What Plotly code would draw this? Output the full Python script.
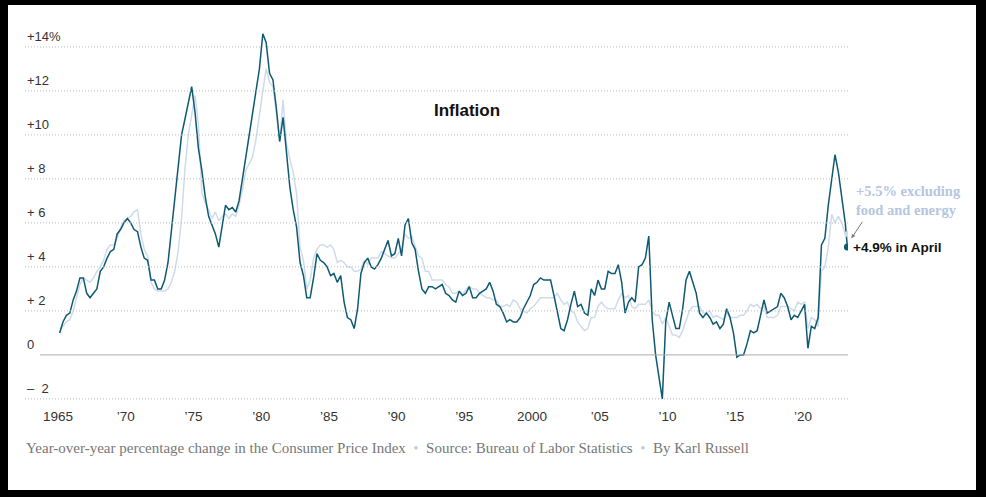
import plotly.graph_objects as go

# quarterly samples (Feb, May, Aug, Nov), last year ends in April
years = list(range(1965, 2024))
months = [2, 5, 8, 11]
last_months = [2, 4]

headline = [
    1.0, 1.5, 1.8, 1.9,  2.5, 2.9, 3.5, 3.5,  2.8, 2.6, 2.8, 3.0,  3.8, 4.0, 4.4, 4.7,
    4.8, 5.5, 5.7, 6.0,  6.2, 6.0, 5.7, 5.6,  4.9, 4.4, 4.3, 3.4,  3.4, 3.0, 3.0, 3.4,
    4.2, 5.6, 7.3, 8.5,  10.0, 10.7, 11.5, 12.2,  11.0, 9.4, 8.4, 7.2,  6.3, 5.9, 5.5, 4.9,
    5.8, 6.8, 6.6, 6.7,  6.5, 7.0, 8.0, 9.0,  9.9, 10.8, 11.8, 13.0,  14.6, 14.2, 12.8, 12.5,
    11.2, 9.7, 10.8, 9.2,  7.6, 6.6, 5.8, 4.2,  3.6, 2.6, 2.6, 3.5,  4.6, 4.3, 4.2, 4.0,
    3.6, 3.7, 3.3, 3.6,  2.4, 1.7, 1.6, 1.2,  2.1, 3.7, 4.2, 4.4,  4.0, 3.9, 4.1, 4.4,
    4.8, 5.2, 4.5, 4.6,  5.3, 4.5, 5.9, 6.2,  5.1, 4.8, 3.8, 3.0,  2.8, 3.1, 3.1, 3.0,
    3.1, 3.2, 2.8, 2.7,  2.5, 2.4, 2.9, 2.7,  2.8, 3.1, 2.6, 2.6,  2.8, 2.9, 3.0, 3.3,
    2.9, 2.3, 2.2, 1.9,  1.5, 1.6, 1.5, 1.5,  1.7, 2.1, 2.4, 2.7,  3.2, 3.3, 3.5, 3.4,
    3.4, 3.4, 2.7, 1.9,  1.2, 1.1, 1.6, 2.3,  2.9, 2.2, 2.3, 1.9,  1.8, 3.0, 2.7, 3.4,
    3.0, 3.0, 3.8, 3.7,  3.7, 4.1, 3.3, 1.9,  2.4, 2.6, 2.4, 4.0,  4.1, 4.4, 5.4, 1.6,
    0.0, -1.0, -2.0, 1.5,  2.4, 1.8, 1.2, 1.2,  2.1, 3.4, 3.8, 3.3,  2.8, 1.9, 1.7, 1.9,
    1.7, 1.4, 1.5, 1.2,  1.4, 2.1, 1.7, 1.0,  -0.1, 0.0, 0.0, 0.5,  1.1, 1.0, 1.1, 1.8,
    2.5, 1.9, 2.0, 2.1,  2.2, 2.8, 2.6, 2.2,  1.6, 1.8, 1.7, 2.0,  2.3, 0.3, 1.3, 1.2,
    1.7, 5.0, 5.3, 6.8,  8.0, 9.1, 8.3, 7.1,  6.0, 4.9,
]

core = [
    1.2, 1.3, 1.5, 1.6,  2.0, 2.6, 3.2, 3.5,  3.4, 3.3, 3.5, 3.8,  4.0, 4.3, 4.8, 5.0,
    5.0, 5.3, 5.8, 6.1,  6.2, 6.3, 6.5, 6.6,  5.5, 4.8, 4.5, 3.3,  3.0, 2.9, 2.9, 2.9,
    3.0, 3.3, 3.8, 4.7,  6.2, 8.4, 10.0, 11.0,  11.8, 10.5, 7.4, 6.9,  6.6, 6.2, 6.5, 6.1,
    6.3, 6.4, 6.2, 6.4,  6.3, 6.8, 7.5, 8.4,  8.7, 9.0, 9.8, 11.0,  12.0, 13.0, 12.4, 12.2,
    11.0, 9.7, 11.6, 9.6,  8.9, 8.3, 7.3, 4.9,  4.3, 3.0, 3.4, 4.4,  4.8, 5.0, 5.0, 4.9,
    5.0, 4.8, 4.2, 4.3,  4.2, 4.0, 4.0, 3.8,  3.8, 3.9, 4.3, 4.1,  4.4, 4.4, 4.4, 4.7,
    4.6, 4.5, 4.4, 4.4,  4.6, 4.8, 5.5, 5.3,  5.4, 5.0, 4.5, 4.4,  3.8, 3.8, 3.4, 3.4,
    3.4, 3.4, 3.2, 3.1,  2.8, 2.8, 2.9, 2.7,  3.0, 3.1, 3.0, 3.0,  2.8, 2.7, 2.6, 2.6,
    2.5, 2.5, 2.2, 2.2,  2.3, 2.2, 2.5, 2.4,  2.1, 2.0, 1.9, 2.1,  2.2, 2.4, 2.6, 2.6,
    2.6, 2.6, 2.6, 2.8,  2.5, 2.3, 2.4, 2.0,  1.9, 1.5, 1.3, 1.1,  1.2, 1.7, 1.7, 2.2,
    2.4, 2.2, 2.1, 2.1,  2.1, 2.5, 2.8, 2.6,  2.7, 2.2, 2.1, 2.3,  2.3, 2.3, 2.5, 2.0,
    1.8, 1.8, 1.4, 1.7,  1.3, 0.9, 0.9, 0.8,  1.1, 1.5, 2.0, 2.2,  2.2, 2.2, 1.9, 1.9,
    2.0, 1.7, 1.8, 1.7,  1.6, 1.9, 1.7, 1.7,  1.7, 1.8, 1.8, 2.0,  2.3, 2.2, 2.3, 2.1,
    2.2, 1.7, 1.7, 1.7,  1.8, 2.2, 2.2, 2.2,  2.1, 2.0, 2.4, 2.3,  2.4, 1.2, 1.7, 1.6,
    1.3, 3.8, 4.0, 4.9,  6.4, 6.0, 6.3, 6.0,  5.5, 5.5,
]

dates = []
for y in years:
    for m in (last_months if y == 2023 else months):
        dates.append(f"{y}-{m:02d}-15")

tick_years = [1965, 1970, 1975, 1980, 1985, 1990, 1995, 2000, 2005, 2010, 2015, 2020]
tick_text = ["1965", "’70", "’75", "’80", "’85", "’90", "’95", "2000", "’05", "’10", "’15", "’20"]
y_ticks = [14, 12, 10, 8, 6, 4, 2, 0, -2]
y_text = ["+14%", "+12", "+10", "+ 8", "+ 6", "+ 4", "+ 2", "0", "–  2"]

DARK = "#0e5a73"
LIGHT = "#cfdbea"
W, H = 986, 497
ML, MR, MT, MB = 58, 138, 30, 97
YMIN, YMAX = -2.05, 14.77

fig = go.Figure()
fig.add_trace(go.Scatter(x=dates, y=core, mode="lines", line=dict(color=LIGHT, width=1.5)))
fig.add_trace(go.Scatter(x=dates, y=headline, mode="lines", line=dict(color=DARK, width=1.5)))
fig.add_trace(go.Scatter(x=[dates[-1]], y=[headline[-1]], mode="markers",
                         marker=dict(color=DARK, size=7)))
fig.add_trace(go.Scatter(x=[dates[-1]], y=[core[-1]], mode="markers",
                         marker=dict(color=LIGHT, size=6)))

pw = W - ML - MR
ph = H - MT - MB
px0 = (25 - ML) / pw
shapes = [dict(type="rect", xref="paper", yref="paper", layer="below",
               x0=(8 - ML) / pw, x1=(976 - ML) / pw,
               y0=-(490 - MT - ph) / ph, y1=1 + (MT - 5) / ph,
               fillcolor="white", line_width=0)]
annotations = []
for v, t in zip(y_ticks, y_text):
    if v == 0:
        shapes.append(dict(type="line", xref="paper", yref="y", x0=(40 - ML) / pw, x1=1,
                           y0=0, y1=0, line=dict(color="#aaaaaa", width=1)))
    else:
        shapes.append(dict(type="line", xref="paper", yref="y", x0=px0, x1=1, y0=v, y1=v,
                           line=dict(color="#bbbbbb", width=1, dash="1px,2px")))
    annotations.append(dict(x=px0, y=v, xref="paper", yref="y", text=t, showarrow=False,
                            xanchor="left", yanchor="bottom", yshift=1,
                            font=dict(size=13, color="#333333", family="Liberation Sans")))

annotations += [
    dict(x="1995-03-01", y=11.1, text="<b>Inflation</b>", showarrow=False,
         font=dict(size=17, color="#111111", family="Liberation Sans")),
    dict(x=dates[-1], y=headline[-1], text="<b>+4.9% in April</b>", showarrow=False,
         xanchor="left", xshift=4, font=dict(size=13.5, color="#111111", family="Liberation Sans")),
    dict(x=dates[-1], y=7.0, text="<b>+5.5% excluding<br>food and energy</b>", showarrow=False,
         xanchor="left", xshift=7, align="left",
         font=dict(size=14.5, color="#b5c6de", family="Liberation Serif")),
    dict(x=dates[-1], y=core[-1] - 0.2, ax=12, ay=-18, text="", showarrow=True,
         arrowhead=2, arrowsize=0.8, arrowwidth=1, arrowcolor="#777777", xshift=4),
    dict(x=(24 - ML) / pw, y=-(448 - MT - ph) / ph, xref="paper", yref="paper",
         xanchor="left", yanchor="middle", showarrow=False,
         text="Year-over-year percentage change in the Consumer Price Index  "
              "<span style='color:#cccccc'>•</span>  Source: Bureau of Labor Statistics  "
              "<span style='color:#cccccc'>•</span>  By Karl Russell",
         font=dict(size=15, color="#777777", family="Liberation Serif")),
]

fig.update_layout(
    width=W, height=H, margin=dict(l=ML, r=MR, t=MT, b=MB),
    paper_bgcolor="black", plot_bgcolor="white", showlegend=False,
    shapes=shapes, annotations=annotations,
    xaxis=dict(range=["1965-01-01", "2023-05-01"], showgrid=False, zeroline=False,
               tickvals=[f"{y}-01-01" for y in tick_years], ticktext=tick_text, ticks="",
               tickfont=dict(size=13.5, color="#333333", family="Liberation Sans")),
    yaxis=dict(range=[YMIN, YMAX], visible=False),
)
fig.update_xaxes(ticklabelstandoff=6)
fig.write_html("out.html", config={"displayModeBar": False},
               post_script="document.body.style.margin='0';document.body.style.background='black';")
